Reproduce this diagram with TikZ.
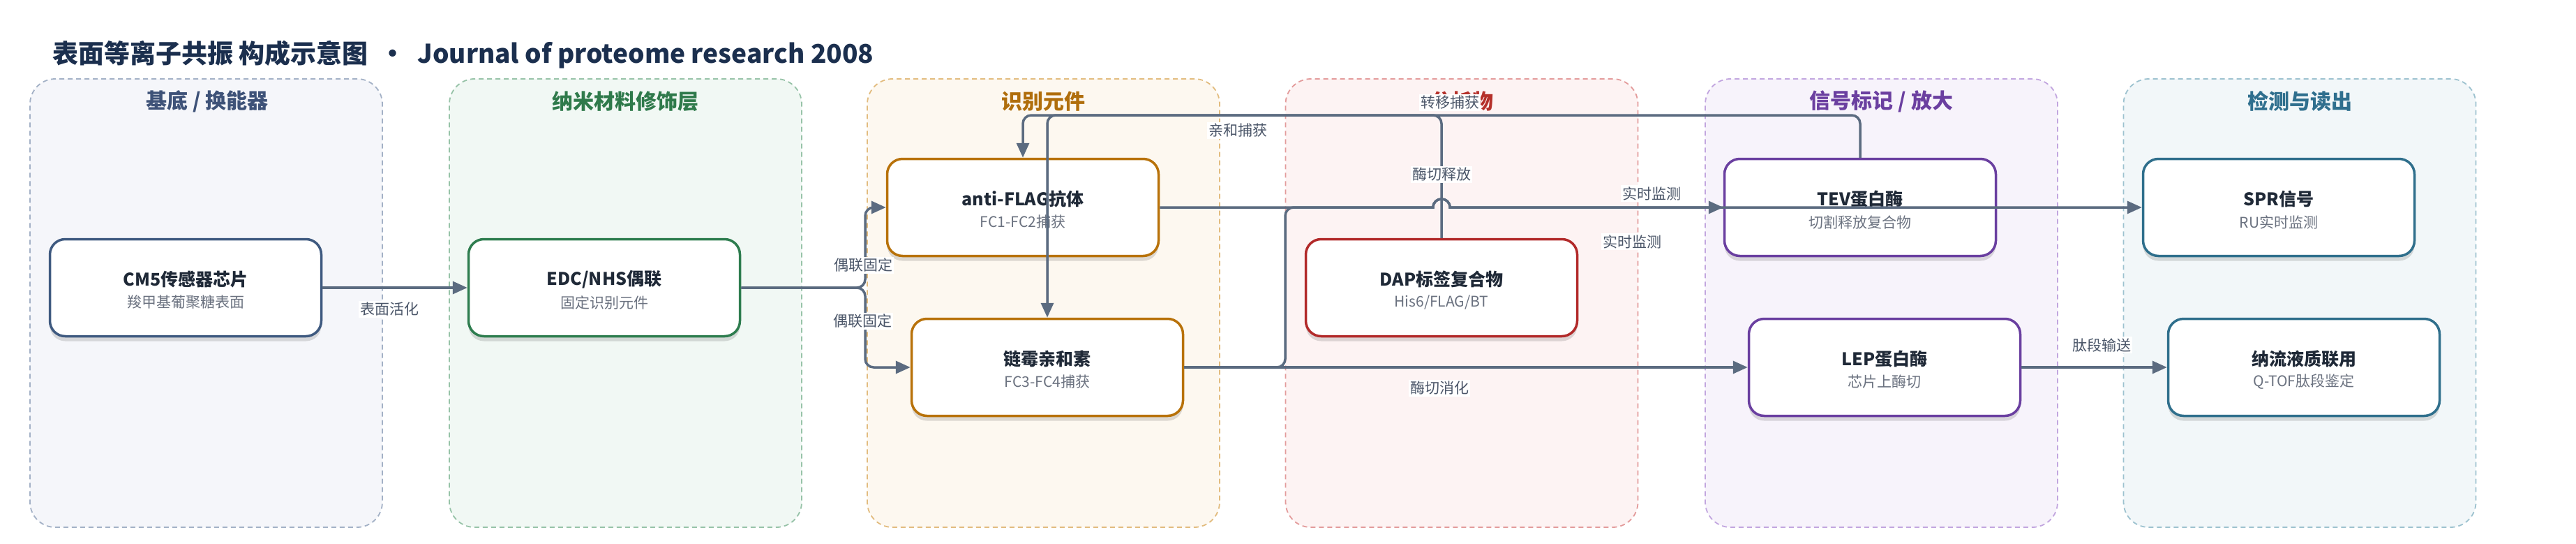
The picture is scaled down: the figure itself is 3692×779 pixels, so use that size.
\documentclass[tikz,border=0pt]{standalone}
\usepackage{fontspec}
\setmainfont{Noto Sans CJK SC}
\usetikzlibrary{arrows.meta,shadows,calc}

\definecolor{titlec}{HTML}{1B2F4E}
\definecolor{edgec}{HTML}{5B6B80}
\definecolor{lblc}{HTML}{4A5568}
\definecolor{ttlc}{HTML}{1F2937}
\definecolor{subc}{HTML}{6B7280}
% column fills / borders / headers
\definecolor{fA}{HTML}{F5F6FA}\definecolor{bA}{HTML}{A3B1C6}\definecolor{hA}{HTML}{3E5278}
\definecolor{fB}{HTML}{F1F8F4}\definecolor{bB}{HTML}{97C3A8}\definecolor{hB}{HTML}{2F7A4B}
\definecolor{fC}{HTML}{FDF8F0}\definecolor{bC}{HTML}{E2BC7F}\definecolor{hC}{HTML}{B06E0C}
\definecolor{fD}{HTML}{FDF3F3}\definecolor{bD}{HTML}{E39B9B}\definecolor{hD}{HTML}{B5302A}
\definecolor{fE}{HTML}{F7F3FB}\definecolor{bE}{HTML}{C2A6DF}\definecolor{hE}{HTML}{6B3FA0}
\definecolor{fF}{HTML}{F2F7F9}\definecolor{bF}{HTML}{9DC2CF}\definecolor{hF}{HTML}{2F6F8E}
% node borders
\definecolor{nA}{HTML}{3F5A80}
\definecolor{nB}{HTML}{2E7D4F}
\definecolor{nC}{HTML}{B8720A}
\definecolor{nD}{HTML}{B22A2A}
\definecolor{nE}{HTML}{6A3FA0}
\definecolor{nF}{HTML}{2F6F8C}

\tikzset{
  colbox/.style 2 args={draw=#1, fill=#2, dash pattern=on 7pt off 5pt, line width=1.8pt,
    rounded corners=36pt, minimum width=505pt, minimum height=642pt, inner sep=0pt},
  colhead/.style={text=#1, font=\fontsize{30pt}{36pt}\selectfont\bfseries, inner sep=0pt},
  stepbox/.style={draw=#1, line width=3.5pt, fill=white, rounded corners=22pt,
    minimum width=389pt, minimum height=139pt, inner sep=0pt,
    drop shadow={shadow xshift=0pt, shadow yshift=-7pt, opacity=0.13, fill=black}},
  ttl/.style={text=ttlc, font=\fontsize{25pt}{30pt}\selectfont\bfseries, inner sep=0pt},
  subt/.style={text=subc, font=\fontsize{21pt}{25pt}\selectfont, inner sep=0pt},
  edge/.style={draw=edgec, line width=3.5pt, rounded corners=12pt,
    -{Triangle[length=21pt,width=18pt]}},
  lbl/.style={fill=white, inner sep=2pt, text=lblc, font=\fontsize{21pt}{25pt}\selectfont},
}

\newcommand{\stepnode}[6]{%
  \node[stepbox=#4] (#1) at (#2,#3) {};
  \node[ttl] (#1-t) at (#2,#3-12) {#5};
  \node[subt] (#1-s) at (#2,#3+21) {#6};
}

\begin{document}
\begin{tikzpicture}[x=1pt,y=-1pt]
\useasboundingbox (0,0) rectangle (3692,779);

% title
\node[anchor=west, text=titlec, font=\fontsize{37pt}{44pt}\selectfont\bfseries, inner sep=0pt]
  (title) at (75,78) {表面等离子共振 构成示意图 \ · \ Journal of proteome research 2008};

% columns
\node[colbox={bA}{fA}] (colA) at (295.5,434) {};
\node[colbox={bB}{fB}] (colB) at (896.5,434) {};
\node[colbox={bC}{fC}] (colC) at (1495.5,434) {};
\node[colbox={bD}{fD}] (colD) at (2095,434) {};
\node[colbox={bE}{fE}] (colE) at (2696.5,434) {};
\node[colbox={bF}{fF}] (colF) at (3296,434) {};

\node[colhead=hA] (hdA) at (297,145) {基底 / 换能器};
\node[colhead=hB] (hdB) at (896.5,145) {纳米材料修饰层};
\node[colhead=hC] (hdC) at (1495.5,145) {识别元件};
\node[colhead=hD] (hdD) at (2095,145) {分析物};
\node[colhead=hE] (hdE) at (2696.5,145) {信号标记 / 放大};
\node[colhead=hF] (hdF) at (3296,145) {检测与读出};

% nodes
\stepnode{cm5}{266}{412}{nA}{CM5传感器芯片}{羧甲基葡聚糖表面}
\stepnode{edc}{866}{412}{nB}{EDC/NHS偶联}{固定识别元件}
\stepnode{af}{1466}{297}{nC}{anti-FLAG抗体}{FC1-FC2捕获}
\stepnode{sa}{1501}{526}{nC}{链霉亲和素}{FC3-FC4捕获}
\stepnode{dap}{2066}{412}{nD}{DAP标签复合物}{His6/FLAG/BT}
\stepnode{tev}{2666}{297}{nE}{TEV蛋白酶}{切割释放复合物}
\stepnode{lep}{2701}{526}{nE}{LEP蛋白酶}{芯片上酶切}
\stepnode{spr}{3266}{297}{nF}{SPR信号}{RU实时监测}
\stepnode{ms}{3302}{526}{nF}{纳流液质联用}{Q-TOF肽段鉴定}

% connectors
\draw[edge] (cm5.east) -- (edc.west);
\draw[edge] (edc.east) -- (1240,412) |- (af.west);
\draw[edge] (edc.east) -- (1240,412) |- (sa.west);
\draw[edge] (dap.north) -- (2066,165) -| (af.north);
\draw[edge] (tev.north) -- (2666,165) -| (sa.north);
\draw[edge, rounded corners=0pt] (af.east) -- (2054,297)
  .. controls (2054,281) and (2078,281) .. (2078,297) -- (tev.west);
\draw[edge] (sa.east) -- (1842,526) -- (1842,297) -- (2000,297) [sharp corners] -- (2054,297)
  .. controls (2054,281) and (2078,281) .. (2078,297) -- (spr.west);
\draw[edge] (sa.east) -- (lep.west);
\draw[edge] (lep.east) -- (ms.west);

% connector labels
\node[lbl] (l1) at (558,443) {表面活化};
\node[lbl] (l2) at (1237,380) {偶联固定};
\node[lbl] (l3) at (1236,460) {偶联固定};
\node[lbl] (l4) at (1774,187) {亲和捕获};
\node[lbl] (l5) at (2078,147) {转移捕获};
\node[lbl] (l6) at (2066,250) {酶切释放};
\node[lbl] (l7) at (2367,277) {实时监测};
\node[lbl] (l8) at (2339,346) {实时监测};
\node[lbl] (l9) at (2063,556) {酶切消化};
\node[lbl] (l10) at (3012,494) {肽段输送};
\end{tikzpicture}
\end{document}
